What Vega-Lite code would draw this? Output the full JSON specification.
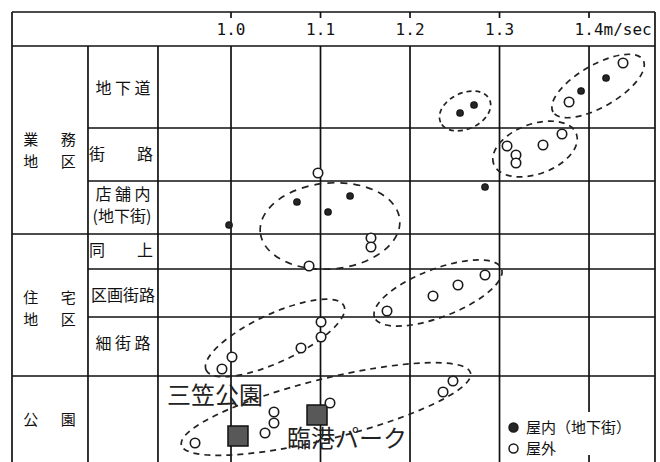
{
  "$schema": "https://vega.github.io/schema/vega-lite/v6.json",
  "width": 660,
  "height": 462,
  "padding": 0,
  "autosize": {"type": "none"},
  "background": "white",
  "config": {"view": {"stroke": null}},
  "encoding": {
    "x": {"field": "v", "type": "quantitative", "scale": {"domain": [0.7419, 1.4793], "nice": false, "zero": false}, "axis": null},
    "y": {"field": "y", "type": "quantitative", "scale": {"domain": [462, 0], "nice": false, "zero": false}, "axis": null}
  },
  "layer": [
    {
      "data": {"values": [
        {"v": 0.7553, "v2": 1.4737, "y": 12, "y2": 12},
        {"v": 0.7553, "v2": 1.4737, "y": 46, "y2": 46},
        {"v": 0.7553, "v2": 1.4737, "y": 234, "y2": 234},
        {"v": 0.7553, "v2": 1.4737, "y": 376, "y2": 376},
        {"v": 0.8402, "v2": 1.4737, "y": 128, "y2": 128},
        {"v": 0.8402, "v2": 1.4737, "y": 181, "y2": 181},
        {"v": 0.8402, "v2": 1.4737, "y": 269, "y2": 269},
        {"v": 0.8402, "v2": 1.4737, "y": 317, "y2": 317},
        {"v": 0.7553, "v2": 0.7553, "y": 12, "y2": 462},
        {"v": 1.4737, "v2": 1.4737, "y": 12, "y2": 462},
        {"v": 0.8402, "v2": 0.8402, "y": 46, "y2": 462},
        {"v": 0.9184, "v2": 0.9184, "y": 46, "y2": 462},
        {"v": 1.0, "v2": 1.0, "y": 46, "y2": 462},
        {"v": 1.1, "v2": 1.1, "y": 46, "y2": 462},
        {"v": 1.2, "v2": 1.2, "y": 46, "y2": 462},
        {"v": 1.3, "v2": 1.3, "y": 46, "y2": 462},
        {"v": 1.4, "v2": 1.4, "y": 46, "y2": 412},
        {"v": 1.4, "v2": 1.4, "y": 455, "y2": 462},
        {"v": 1.0, "v2": 1.0, "y": 12, "y2": 18},
        {"v": 1.1, "v2": 1.1, "y": 12, "y2": 18},
        {"v": 1.2, "v2": 1.2, "y": 12, "y2": 18},
        {"v": 1.3, "v2": 1.3, "y": 12, "y2": 18},
        {"v": 1.4, "v2": 1.4, "y": 12, "y2": 18}
      ]},
      "mark": {"type": "rule", "color": "#111", "strokeWidth": 1.7},
      "encoding": {"x2": {"field": "v2"}, "y2": {"field": "y2"}}
    },
    {
      "data": {"values": [{"v": 1.4101, "y": 86}]},
      "mark": {"type": "point", "shape": "M -52 0 C -52 -11.6 -28.72 -21 0 -21 C 28.72 -21 52 -11.6 52 0 C 52 11.6 28.72 21 0 21 C -28.72 21 -52 11.6 -52 0 Z", "size": 4, "angle": 330, "filled": false, "opacity": 1, "stroke": "#222", "strokeWidth": 1.7, "strokeDash": [6, 5]}
    },
    {
      "data": {"values": [{"v": 1.2615, "y": 111}]},
      "mark": {"type": "point", "shape": "M -27 0 C -27 -9.94 -14.91 -18 0 -18 C 14.91 -18 27 -9.94 27 0 C 27 9.94 14.91 18 0 18 C -14.91 18 -27 9.94 -27 0 Z", "size": 4, "angle": 335, "filled": false, "opacity": 1, "stroke": "#222", "strokeWidth": 1.7, "strokeDash": [5, 4]}
    },
    {
      "data": {"values": [{"v": 1.3397, "y": 149}]},
      "mark": {"type": "point", "shape": "M -44 0 C -44 -13.81 -24.3 -25 0 -25 C 24.3 -25 44 -13.81 44 0 C 44 13.81 24.3 25 0 25 C -24.3 25 -44 13.81 -44 0 Z", "size": 4, "angle": 340, "filled": false, "opacity": 1, "stroke": "#222", "strokeWidth": 1.7, "strokeDash": [6, 5]}
    },
    {
      "data": {"values": [{"v": 1.1106, "y": 226}]},
      "mark": {"type": "point", "shape": "M -70 0 C -70 -23.75 -38.66 -43 0 -43 C 38.66 -43 70 -23.75 70 0 C 70 23.75 38.66 43 0 43 C -38.66 43 -70 23.75 -70 0 Z", "size": 4, "angle": 355, "filled": false, "opacity": 1, "stroke": "#222", "strokeWidth": 1.7, "strokeDash": [7, 6]}
    },
    {
      "data": {"values": [{"v": 1.2313, "y": 293}]},
      "mark": {"type": "point", "shape": "M -68 0 C -68 -13.26 -37.56 -24 0 -24 C 37.56 -24 68 -13.26 68 0 C 68 13.26 37.56 24 0 24 C -37.56 24 -68 13.26 -68 0 Z", "size": 4, "angle": 339, "filled": false, "opacity": 1, "stroke": "#222", "strokeWidth": 1.7, "strokeDash": [6, 5]}
    },
    {
      "data": {"values": [{"v": 1.0492, "y": 338}]},
      "mark": {"type": "point", "shape": "M -76 0 C -76 -13.26 -41.97 -24 0 -24 C 41.97 -24 76 -13.26 76 0 C 76 13.26 41.97 24 0 24 C -41.97 24 -76 13.26 -76 0 Z", "size": 4, "angle": 335, "filled": false, "opacity": 1, "stroke": "#222", "strokeWidth": 1.7, "strokeDash": [6, 5]}
    },
    {
      "data": {"values": [{"v": 1.1061, "y": 409}]},
      "mark": {"type": "point", "shape": "M -149 0 C -149 -16.57 -82.29 -30 0 -30 C 82.29 -30 149 -16.57 149 0 C 149 16.57 82.29 30 0 30 C -82.29 30 -149 16.57 -149 0 Z", "size": 4, "angle": 346, "filled": false, "opacity": 1, "stroke": "#222", "strokeWidth": 1.7, "strokeDash": [6, 5]}
    },
    {
      "data": {"values": [
        {"t": "1.0", "v": 1.0, "y": 30},
        {"t": "1.1", "v": 1.1, "y": 30},
        {"t": "1.2", "v": 1.2, "y": 30},
        {"t": "1.3", "v": 1.3, "y": 30},
        {"t": "1.4m/sec", "v": 1.4, "y": 30}
      ]},
      "mark": {"type": "text", "font": "DejaVu Sans Mono", "fontSize": 16, "align": "left", "baseline": "middle", "dx": -14.4, "color": "#111"},
      "encoding": {"text": {"field": "t"}}
    },
    {
      "data": {"values": [
        {"t": "地 下 道", "v": 0.8793, "y": 89},
        {"t": "街　　路", "v": 0.8771, "y": 155},
        {"t": "店 舗 内", "v": 0.8793, "y": 195},
        {"t": "(地下街)", "v": 0.8782, "y": 217},
        {"t": "同　　上", "v": 0.8771, "y": 251},
        {"t": "区画街路", "v": 0.8793, "y": 296},
        {"t": "細 街 路", "v": 0.8793, "y": 344}
      ]},
      "mark": {"type": "text", "font": "Noto Sans CJK JP", "fontSize": 16, "align": "center", "baseline": "middle", "color": "#111"},
      "encoding": {"text": {"field": "t"}}
    },
    {
      "data": {"values": [
        {"t": "業\u3000\u2002務", "v": 0.7972, "y": 140},
        {"t": "地\u3000\u2002区", "v": 0.7972, "y": 162},
        {"t": "住\u3000\u2002宅", "v": 0.7972, "y": 298},
        {"t": "地\u3000\u2002区", "v": 0.7972, "y": 320},
        {"t": "公\u3000\u2002園", "v": 0.7972, "y": 420}
      ]},
      "mark": {"type": "text", "font": "Noto Sans CJK JP", "fontSize": 15, "align": "center", "baseline": "middle", "color": "#111"},
      "encoding": {"text": {"field": "t"}}
    },
    {
      "data": {"values": [
        {"t": "三笠公園", "v": 0.9285, "y": 397},
        {"t": "臨港パーク", "v": 1.0626, "y": 440}
      ]},
      "mark": {"type": "text", "font": "Noto Sans CJK JP", "fontSize": 24, "align": "left", "baseline": "middle", "color": "#222"},
      "encoding": {"text": {"field": "t"}}
    },
    {
      "data": {"values": [
        {"name": "臨港パーク", "v": 1.0078, "y": 436},
        {"name": "三笠公園", "v": 1.0961, "y": 415}
      ]},
      "mark": {"type": "square", "size": 400, "fill": "#585858", "stroke": "#111", "strokeWidth": 1.5, "opacity": 1}
    },
    {
      "data": {"values": [
        {"type": "屋内（地下街）", "v": 1.4190, "y": 78},
        {"type": "屋内（地下街）", "v": 1.3911, "y": 91},
        {"type": "屋内（地下街）", "v": 1.2715, "y": 105},
        {"type": "屋内（地下街）", "v": 1.2559, "y": 113},
        {"type": "屋内（地下街）", "v": 1.2838, "y": 187},
        {"type": "屋内（地下街）", "v": 1.1330, "y": 196},
        {"type": "屋内（地下街）", "v": 1.1084, "y": 212},
        {"type": "屋内（地下街）", "v": 1.0737, "y": 202},
        {"type": "屋内（地下街）", "v": 0.9978, "y": 225}
      ]},
      "mark": {"type": "point", "shape": "circle", "filled": true, "opacity": 1, "stroke": "#1a1a1a", "strokeWidth": 1.4, "size": 40},
      "encoding": {
        "fill": {
          "field": "type", "type": "nominal",
          "scale": {"domain": ["屋内（地下街）", "屋外"], "range": ["#262626", "#ffffff"]},
          "legend": {
            "title": null, "orient": "none", "legendX": 506, "legendY": 420, "padding": 0,
            "labelFont": "Noto Sans CJK JP", "labelFontSize": 15, "labelColor": "#111",
            "labelOffset": 5, "rowPadding": 5, "symbolType": "circle", "symbolSize": 80,
            "symbolStrokeColor": "#1a1a1a", "symbolStrokeWidth": 1.5,
            "encode": {"symbols": {"update": {"size": {"signal": "datum.value === '屋外' ? 85 : 36"}}}}
          }
        }
      }
    },
    {
      "data": {"values": [
        {"type": "屋外", "v": 1.4380, "y": 63},
        {"type": "屋外", "v": 1.3777, "y": 102},
        {"type": "屋外", "v": 1.3698, "y": 134},
        {"type": "屋外", "v": 1.3486, "y": 145},
        {"type": "屋外", "v": 1.3084, "y": 146},
        {"type": "屋外", "v": 1.3184, "y": 155},
        {"type": "屋外", "v": 1.3184, "y": 163},
        {"type": "屋外", "v": 1.0972, "y": 173},
        {"type": "屋外", "v": 1.1564, "y": 238},
        {"type": "屋外", "v": 1.1564, "y": 247},
        {"type": "屋外", "v": 1.0872, "y": 266},
        {"type": "屋外", "v": 1.2838, "y": 275},
        {"type": "屋外", "v": 1.2536, "y": 285},
        {"type": "屋外", "v": 1.2257, "y": 296},
        {"type": "屋外", "v": 1.1743, "y": 311},
        {"type": "屋外", "v": 1.1006, "y": 322},
        {"type": "屋外", "v": 1.1006, "y": 337},
        {"type": "屋外", "v": 1.0782, "y": 348},
        {"type": "屋外", "v": 1.0011, "y": 357},
        {"type": "屋外", "v": 0.9899, "y": 369},
        {"type": "屋外", "v": 1.2480, "y": 381},
        {"type": "屋外", "v": 1.2369, "y": 392},
        {"type": "屋外", "v": 1.1106, "y": 403},
        {"type": "屋外", "v": 1.0480, "y": 412},
        {"type": "屋外", "v": 1.0480, "y": 423},
        {"type": "屋外", "v": 1.0380, "y": 433},
        {"type": "屋外", "v": 0.9598, "y": 443}
      ]},
      "mark": {"type": "point", "shape": "circle", "filled": true, "opacity": 1, "stroke": "#1a1a1a", "strokeWidth": 1.6, "size": 90},
      "encoding": {
        "fill": {
          "field": "type", "type": "nominal",
          "scale": {"domain": ["屋内（地下街）", "屋外"], "range": ["#262626", "#ffffff"]},
          "legend": {
            "title": null, "orient": "none", "legendX": 506, "legendY": 420, "padding": 0,
            "labelFont": "Noto Sans CJK JP", "labelFontSize": 15, "labelColor": "#111",
            "labelOffset": 5, "rowPadding": 5, "symbolType": "circle", "symbolSize": 80,
            "symbolStrokeColor": "#1a1a1a", "symbolStrokeWidth": 1.5,
            "encode": {"symbols": {"update": {"size": {"signal": "datum.value === '屋外' ? 85 : 36"}}}}
          }
        }
      }
    }
  ]
}
